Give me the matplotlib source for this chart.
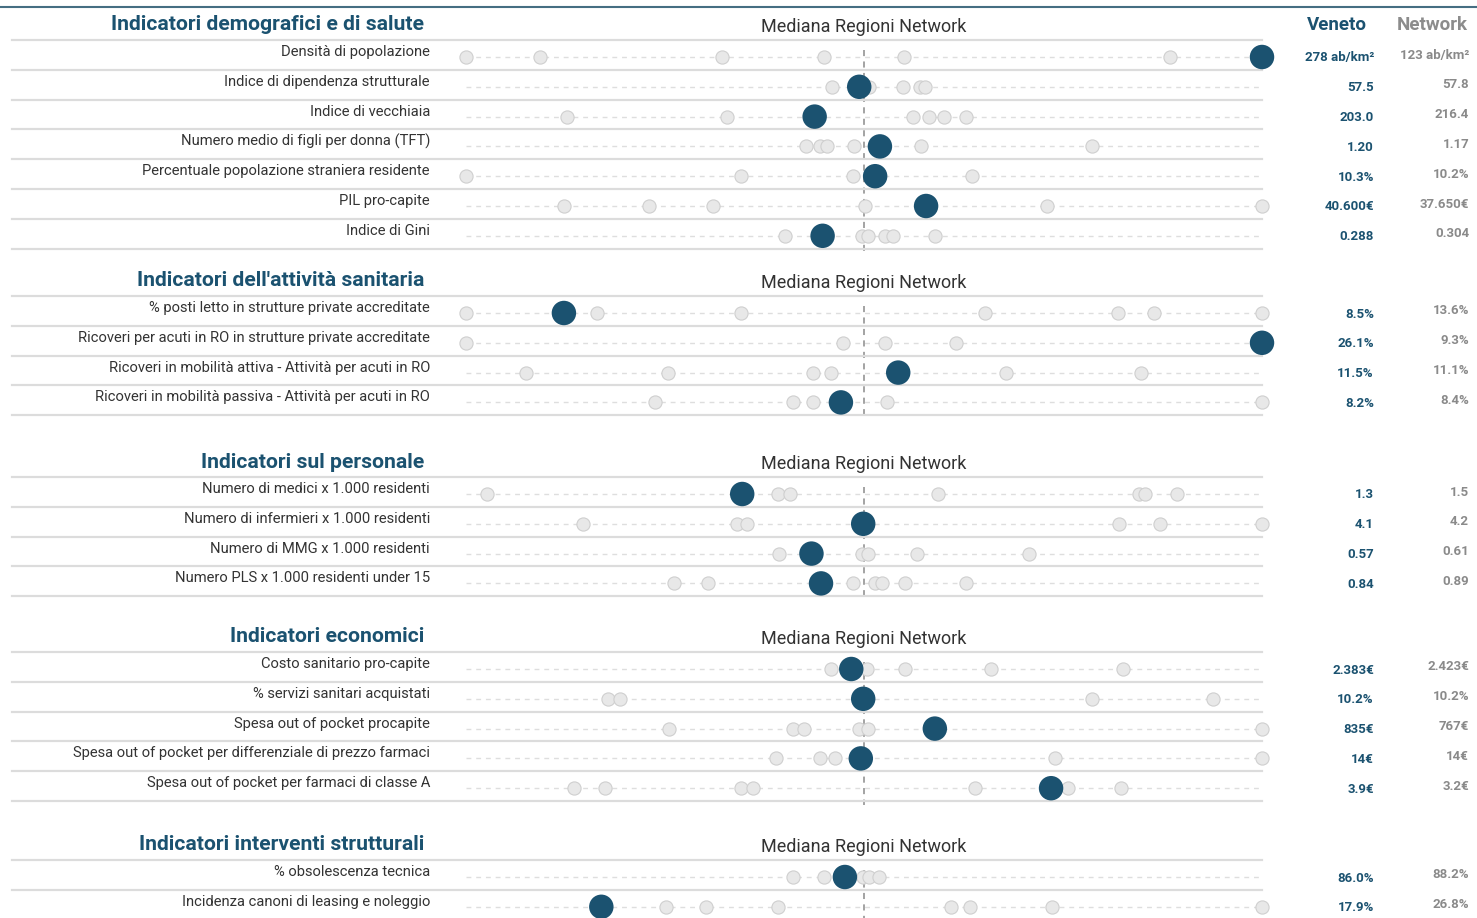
import matplotlib.pyplot as plt
from matplotlib import transforms

plt.rcParams['font.family'] = ['Roboto', 'DejaVu Sans']

# section titles and the section each indicator belongs to
sections = [
    "Indicatori demografici e di salute",
    "Indicatori dell'attività sanitaria",
    "Indicatori sul personale",
    "Indicatori economici",
    "Indicatori interventi strutturali",
]
row_section = [0, 0, 0, 0, 0, 0, 0, 1, 1, 1, 1, 2, 2, 2, 2, 3, 3, 3, 3, 3, 4, 4]

row_labels = [
    "Densità di popolazione",
    "Indice di dipendenza strutturale",
    "Indice di vecchiaia",
    "Numero medio di figli per donna (TFT)",
    "Percentuale popolazione straniera residente",
    "PIL pro-capite",
    "Indice di Gini",
    "% posti letto in strutture private accreditate",
    "Ricoveri per acuti in RO in strutture private accreditate",
    "Ricoveri in mobilità attiva - Attività per acuti in RO",
    "Ricoveri in mobilità passiva - Attività per acuti in RO",
    "Numero di medici x 1.000 residenti",
    "Numero di infermieri x 1.000 residenti",
    "Numero di MMG x 1.000 residenti",
    "Numero PLS x 1.000 residenti under 15",
    "Costo sanitario pro-capite",
    "% servizi sanitari acquistati",
    "Spesa out of pocket procapite",
    "Spesa out of pocket per differenziale di prezzo farmaci",
    "Spesa out of pocket per farmaci di classe A",
    "% obsolescenza tecnica",
    "Incidenza canoni di leasing e noleggio",
]

# normalised position of each region (0 = minimum, 50 = network median, 100 = maximum)
region_scores = [
    [0, 9.3, 32.2, 45.0, 55.0, 88.4],
    [46.0, 50.6, 54.9, 57.0, 57.7],
    [12.7, 32.8, 56.2, 58.2, 60.1, 62.8],
    [42.7, 44.5, 45.3, 48.8, 57.2, 78.6],
    [0, 34.5, 48.6, 63.6],
    [12.3, 23.0, 31.0, 50.1, 73.0, 100],
    [40.1, 49.8, 50.5, 52.7, 53.6, 58.9],
    [0, 16.5, 34.5, 65.2, 81.9, 86.4, 100],
    [0, 47.3, 52.7, 61.5],
    [7.6, 25.4, 43.6, 45.9, 67.8, 84.8],
    [23.8, 41.1, 43.6, 52.9, 100],
    [2.6, 39.2, 40.7, 59.3, 84.5, 85.3, 89.3],
    [14.7, 34.0, 35.3, 82.0, 87.2, 100],
    [39.3, 49.7, 50.5, 56.6, 70.7],
    [26.1, 30.4, 48.6, 51.4, 52.2, 55.1, 62.8],
    [45.9, 50.4, 55.1, 65.9, 82.6],
    [17.9, 19.3, 78.6, 93.8],
    [25.5, 41.1, 42.4, 49.4, 50.5, 100],
    [38.9, 44.5, 46.3, 74.0, 100],
    [13.6, 17.4, 34.5, 36.0, 64.0, 75.6, 82.3],
    [41.1, 45.0, 49.9, 50.6, 51.9],
    [25.1, 30.1, 39.2, 60.9, 63.3, 73.6, 100],
]
veneto_scores = [100, 49.4, 43.8, 52.0, 51.4, 57.8, 44.8,
                 12.3, 100, 54.3, 47.1,
                 34.7, 49.9, 43.4, 44.6,
                 48.4, 49.9, 58.9, 49.6, 73.5,
                 47.6, 17.0]

veneto_values = ["278 ab/km²", "57.5", "203.0", "1.20", "10.3%", "40.600€", "0.288",
                 "8.5%", "26.1%", "11.5%", "8.2%",
                 "1.3", "4.1", "0.57", "0.84",
                 "2.383€", "10.2%", "835€", "14€", "3.9€",
                 "86.0%", "17.9%"]
network_values = ["123 ab/km²", "57.8", "216.4", "1.17", "10.2%", "37.650€", "0.304",
                  "13.6%", "9.3%", "11.1%", "8.4%",
                  "1.5", "4.2", "0.61", "0.89",
                  "2.423€", "10.2%", "767€", "14€", "3.2€",
                  "88.2%", "26.8%"]

TEAL = '#1b5270'
GREY_TXT = '#8a8a8a'

W, H = 1477, 918
fig = plt.figure(figsize=(W / 100, H / 100), dpi=100)
strip_l, strip_r = 466, 1262
ax = fig.add_axes([strip_l / W, 0, (strip_r - strip_l) / W, 1])
ax.set_xlim(0, 100)
ax.set_ylim(H, 0)
ax.axis('off')

# x in figure pixels, y in pixels from the top
fx = transforms.blended_transform_factory(fig.transFigure, ax.transData)


def px(x):
    return x / W


section_tops = [40, 296, 477, 652, 860]
row_h = 29.8

# top rule
ax.plot([0, 1], [7, 7], transform=fx, color='#456e82', lw=1.5, clip_on=False)

ax.text(px(1337), 25, "Veneto", transform=fx, ha='center', va='center',
        fontsize=13.5, fontweight='bold', color=TEAL)
ax.text(px(1432), 25, "Network", transform=fx, ha='center', va='center',
        fontsize=13.5, fontweight='bold', color='#8c8c8c')

for s, title in enumerate(sections):
    top = section_tops[s]
    rows = [i for i, r in enumerate(row_section) if r == s]
    ax.text(px(424), top - 15, title, transform=fx, ha='right', va='center',
            fontsize=15.2, fontweight='bold', color=TEAL)
    ax.text(50, top - 13, "Mediana Regioni Network", ha='center', va='center',
            fontsize=13, color='#333333')
    ax.plot([px(12), px(strip_r)], [top, top], transform=fx, color='#dcdcdc',
            lw=1.6, clip_on=False)
    bottom = top + len(rows) * row_h
    ax.plot([50, 50], [top + 10, bottom + 4], color='#8a8a8a', lw=1.1,
            dashes=(4, 3.5), zorder=2, clip_on=False)

    for k, i in enumerate(rows):
        y = top + 17 + k * row_h
        sep = top + (k + 1) * row_h
        ax.plot([px(12), px(strip_r)], [sep, sep], transform=fx, color='#dcdcdc',
                lw=1.6, clip_on=False)
        ax.plot([0, 100], [y, y], color='#dedede', lw=1, dashes=(3.5, 3.5), zorder=1)
        ax.scatter(region_scores[i], [y] * len(region_scores[i]), s=90,
                   color='#e8e8e8', edgecolor='#cfcfcf', linewidth=0.8,
                   zorder=3, clip_on=False)
        ax.scatter([veneto_scores[i]], [y], s=310, color=TEAL, edgecolor='none',
                   zorder=4, clip_on=False)
        ax.text(px(430), y - 5, row_labels[i], transform=fx, ha='right', va='center',
                fontsize=10.6, color='#333333')
        ax.text(px(1374), y + 1, veneto_values[i], transform=fx, ha='right',
                va='center', fontsize=9.5, fontweight='bold', color=TEAL)
        ax.text(px(1469), y - 2, network_values[i], transform=fx, ha='right',
                va='center', fontsize=9.5, fontweight='bold', color=GREY_TXT)

fig.savefig('out.png', dpi=100, facecolor='white')
